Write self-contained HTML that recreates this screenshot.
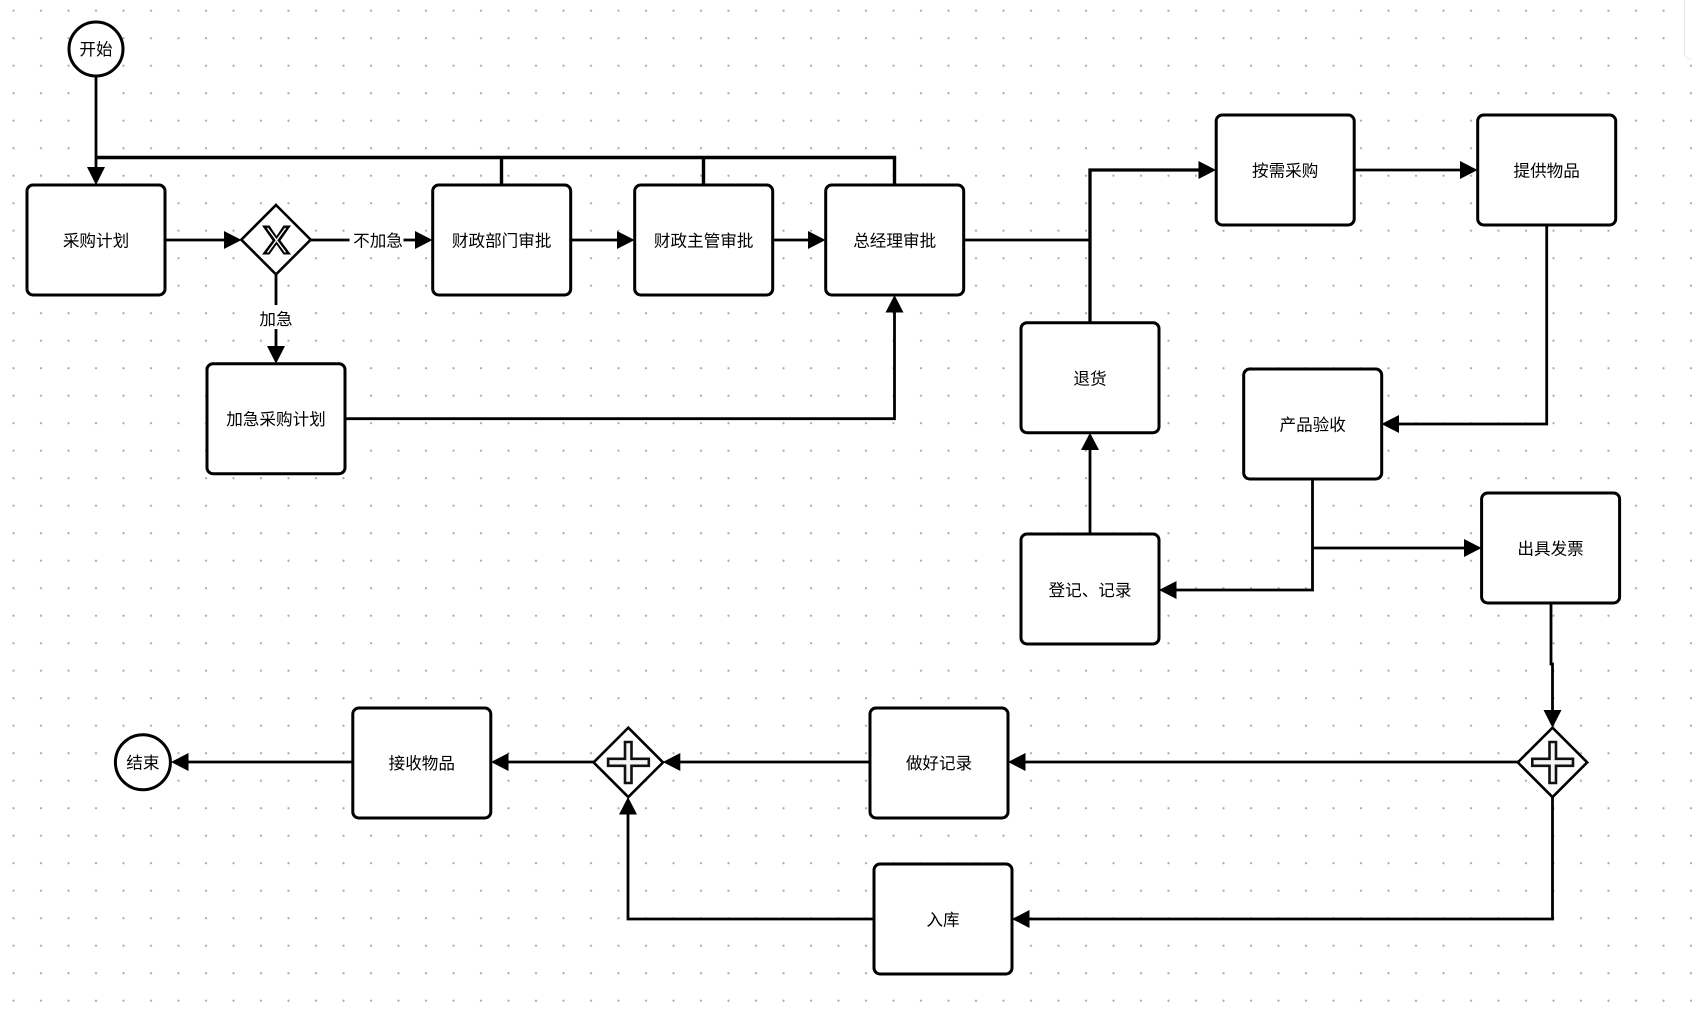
<!DOCTYPE html>
<html>
<head>
<meta charset="utf-8">
<style>
html,body{margin:0;padding:0;background:#fff;width:1692px;height:1012px;overflow:hidden}
svg{display:block}
text{font-family:"Liberation Sans","Noto Sans CJK SC",sans-serif;font-size:16.6px;font-weight:400;fill:#000;text-anchor:middle;dominant-baseline:central}
.n{fill:#fff;stroke:#000;stroke-width:3}
.l{fill:none;stroke:#000;stroke-width:2.8;stroke-linejoin:miter}
.a{fill:#000;stroke:none}
.g{fill:#fff;stroke:#000;stroke-width:2.6}
.m{fill:#f6f6f6;stroke:#111;stroke-width:2.6}
</style>
</head>
<body>
<svg width="1692" height="1012" viewBox="0 0 1692 1012" xmlns="http://www.w3.org/2000/svg">
<defs>
<pattern id="d" x="13.4" y="10.6" width="27.5" height="27.5" patternUnits="userSpaceOnUse">
<circle cx="0.1" cy="0.1" r="1.1" fill="#a8a8a8"/><circle cx="27.6" cy="0.1" r="1.1" fill="#a8a8a8"/><circle cx="0.1" cy="27.6" r="1.1" fill="#a8a8a8"/><circle cx="27.6" cy="27.6" r="1.1" fill="#a8a8a8"/>
</pattern>
</defs>
<rect width="1692" height="1012" fill="#fff"/>
<rect width="1692" height="1012" fill="url(#d)"/>
<rect x="1684.5" y="-6" width="20" height="65" rx="6" fill="#fff" stroke="#e8e8e8"/>

<!-- connectors -->
<path class="l" d="M96 76V170"/>
<path class="l" style="stroke-width:3.4" d="M96 157.5H894.5V185M501.5 157.5V185M703.5 157.5V185"/>
<path class="l" d="M165 240H226"/>
<path class="l" d="M310.7 240H417"/>
<path class="l" d="M276 274V346"/>
<path class="l" d="M570 240H618"/>
<path class="l" d="M772.6 240H810"/>
<path class="l" d="M345 418.7H894.5V312"/>
<path class="l" d="M963.6 240H1090V170"/>
<path class="l" style="stroke-width:3.3" d="M1090 322.6V170H1200"/>
<path class="l" d="M1354 170H1461"/>
<path class="l" d="M1546.7 225V424H1398"/>
<path class="l" d="M1312.5 479V590H1176"/>
<path class="l" d="M1312.5 548H1465"/>
<path class="l" d="M1090 534V449"/>
<path class="l" d="M1551 603V664H1552.5V711"/>
<path class="l" d="M1518 762H1024"/>
<path class="l" d="M870 762H679"/>
<path class="l" d="M594 762H507"/>
<path class="l" d="M352.6 762H188"/>
<path class="l" d="M1552.5 797V919H1028"/>
<path class="l" d="M874 919H628V813"/>

<!-- arrowheads -->
<polygon class="a" points="96,185 87,167 105,167"/>
<polygon class="a" points="241.5,240 224,231 224,249"/>
<polygon class="a" points="432.5,240 415,231 415,249"/>
<polygon class="a" points="634.5,240 617,231 617,249"/>
<polygon class="a" points="825.5,240 808,231 808,249"/>
<polygon class="a" points="276,363.7 267,346 285,346"/>
<polygon class="a" points="894.5,295 885.5,312.5 903.5,312.5"/>
<polygon class="a" points="1216,170 1198.5,161 1198.5,179"/>
<polygon class="a" points="1477.5,170 1460,161 1460,179"/>
<polygon class="a" points="1381.5,424 1399,415 1399,433"/>
<polygon class="a" points="1481.5,548 1464,539 1464,557"/>
<polygon class="a" points="1159,590 1176.5,581 1176.5,599"/>
<polygon class="a" points="1090,432.7 1081,450 1099,450"/>
<polygon class="a" points="1552.5,727.7 1543.5,710 1561.5,710"/>
<polygon class="a" points="1008,762 1025.5,753 1025.5,771"/>
<polygon class="a" points="662.8,762 680.3,753 680.3,771"/>
<polygon class="a" points="491,762 508.5,753 508.5,771"/>
<polygon class="a" points="171,762 188.5,753 188.5,771"/>
<polygon class="a" points="1012,919 1029.5,910 1029.5,928"/>
<polygon class="a" points="628,797 619,814.5 637,814.5"/>

<!-- start/end -->
<circle class="n" cx="96" cy="49" r="27"/>
<text x="96" y="49.5">开始</text>
<circle class="n" cx="142.9" cy="762.3" r="27.5"/>
<text x="142.9" y="763">结束</text>

<!-- tasks -->
<rect class="n" x="27" y="185" width="138" height="110" rx="6"/><text x="96" y="241">采购计划</text>
<rect class="n" x="432.7" y="185" width="138" height="110" rx="6"/><text x="501.7" y="241">财政部门审批</text>
<rect class="n" x="634.7" y="185" width="138" height="110" rx="6"/><text x="703.7" y="241">财政主管审批</text>
<rect class="n" x="825.7" y="185" width="138" height="110" rx="6"/><text x="894.7" y="241">总经理审批</text>
<rect class="n" x="207" y="363.7" width="138" height="110" rx="6"/><text x="276" y="419.7">加急采购计划</text>
<rect class="n" x="1021" y="322.7" width="138" height="110" rx="6"/><text x="1090" y="379">退货</text>
<rect class="n" x="1021" y="534" width="138" height="110" rx="6"/><text x="1090" y="590.5">登记、记录</text>
<rect class="n" x="1216.2" y="115" width="138" height="110" rx="6"/><text x="1285.2" y="171">按需采购</text>
<rect class="n" x="1477.7" y="115" width="138" height="110" rx="6"/><text x="1546.7" y="171">提供物品</text>
<rect class="n" x="1243.7" y="369" width="138" height="110" rx="6"/><text x="1312.7" y="425">产品验收</text>
<rect class="n" x="1481.6" y="493" width="138" height="110" rx="6"/><text x="1550.6" y="549">出具发票</text>
<rect class="n" x="870" y="708" width="138" height="110" rx="6"/><text x="939" y="763.5">做好记录</text>
<rect class="n" x="352.8" y="708" width="138" height="110" rx="6"/><text x="421.8" y="763.5">接收物品</text>
<rect class="n" x="874" y="864" width="138" height="110" rx="6"/><text x="943" y="920">入库</text>

<!-- gateways -->
<polygon class="g" points="276,205 310.7,239.7 276,274.4 241.3,239.7"/>
<path d="M262 225.5H269.5L276.5 236L283.5 225.5H291L280.5 240.5L291 254.5H283.5L276.5 244.5L269.5 254.5H262L272.5 240.5Z" fill="#000"/>
<path d="M267.5 228L285.5 252.5M285.5 228L267.5 252.5" fill="none" stroke="#fff" stroke-width="1.4"/>
<polygon class="g" points="1552.5,727.7 1587.2,762.4 1552.5,797.1 1517.8,762.4"/>
<path class="m" d="M1549.5 742H1556V758.8H1573V765.8H1556V783H1549.5V765.8H1532.3V758.8H1549.5Z"/>
<polygon class="g" points="628.3,727.7 663,762.4 628.3,797.1 593.6,762.4"/>
<path class="m" d="M625 742H631.5V758.8H648.8V765.8H631.5V783H625V765.8H608.1V758.8H625Z"/>

<!-- edge labels -->
<rect x="349.5" y="228" width="54" height="24" fill="#fff"/>
<text x="378" y="241">不加急</text>
<rect x="257" y="305" width="38" height="24" fill="#fff"/>
<text x="276" y="319.5">加急</text>
</svg>
</body>
</html>
